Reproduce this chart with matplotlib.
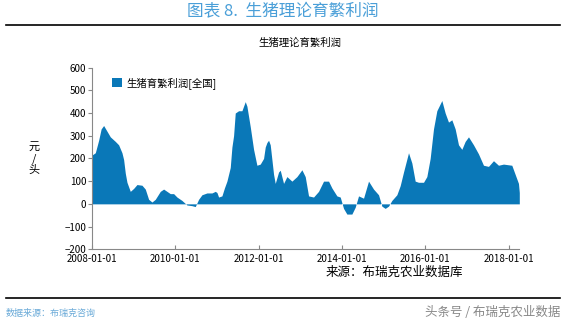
import pandas as pd
import numpy as np
import matplotlib.pyplot as plt
import matplotlib.dates as mdates

plt.rcParams['font.family'] = ['Noto Sans CJK SC', 'DejaVu Sans']

# decimal years, profit in yuan per head
years = [2008.00, 2008.08, 2008.16, 2008.22, 2008.28, 2008.36, 2008.44, 2008.56, 2008.64,
         2008.72, 2008.76, 2008.80, 2008.84, 2008.92, 2009.00, 2009.08, 2009.20, 2009.28,
         2009.36, 2009.44, 2009.52, 2009.64, 2009.72, 2009.80, 2009.88, 2009.96, 2010.04,
         2010.16, 2010.28, 2010.40, 2010.48, 2010.56, 2010.64, 2010.76, 2010.88, 2010.96,
         2011.00, 2011.04, 2011.12, 2011.18, 2011.24, 2011.28, 2011.32, 2011.36, 2011.40,
         2011.44, 2011.52, 2011.60, 2011.68, 2011.72, 2011.80, 2011.88, 2011.96, 2012.04,
         2012.12, 2012.16, 2012.20, 2012.24, 2012.28, 2012.36, 2012.40, 2012.48, 2012.52,
         2012.60, 2012.68, 2012.80, 2012.92, 2013.04, 2013.12, 2013.20, 2013.32, 2013.44,
         2013.56, 2013.68, 2013.76, 2013.88, 2013.96, 2014.04, 2014.12, 2014.24, 2014.32,
         2014.40, 2014.52, 2014.64, 2014.76, 2014.88, 2014.96, 2015.04, 2015.12, 2015.20,
         2015.32, 2015.40, 2015.48, 2015.60, 2015.68, 2015.76, 2015.84, 2015.96, 2016.04,
         2016.12, 2016.20, 2016.28, 2016.40, 2016.48, 2016.56, 2016.64, 2016.72, 2016.80,
         2016.88, 2016.96, 2017.04, 2017.16, 2017.28, 2017.40, 2017.52, 2017.64, 2017.76,
         2017.88, 2018.08, 2018.16, 2018.24, 2018.26]
profit = [215, 225, 280, 330, 345, 320, 295, 275, 260,
          225, 195, 135, 95, 55, 68, 85, 82, 65,
          20, 8, 20, 55, 65, 55, 45, 45, 30,
          15, -5, -8, -12, 20, 40, 48, 48, 55,
          50, 30, 35, 70, 100, 130, 160, 250, 300,
          400, 410, 410, 450, 430, 340, 240, 170, 175,
          200, 250, 270, 280, 260, 130, 90, 140, 148,
          90, 120, 100, 120, 150, 120, 35, 30, 55,
          100, 100, 70, 35, 30, -20, -45, -45, -15,
          35, 25, 100, 65, 40, -10, -20, -10, 15,
          40, 80, 140, 225, 180, 100, 95, 95, 120,
          200, 330, 410, 455, 400, 360, 370, 330, 260,
          240, 275, 295, 260, 220, 170, 165, 190, 170,
          175, 170, 130, 90, 50]

yticks = [-200, -100, 0, 100, 200, 300, 400, 500, 600]
xtick_labels = ['2008-01-01', '2010-01-01', '2012-01-01', '2014-01-01', '2016-01-01', '2018-01-01']

dates = pd.to_datetime('2008-01-01') + pd.to_timedelta((np.array(years) - 2008) * 365.25, unit='D')

fig = plt.figure(figsize=(5.66, 3.25), dpi=100)
ax = fig.add_axes([0.1625, 0.233, 0.755, 0.559])

color = '#0a78b8'
ax.fill_between(dates, profit, 0, color=color, linewidth=0, label='生猪育繁利润[全国]')

ax.set_xlim(dates[0], dates[-1])
ax.set_ylim(-200, 600)
ax.set_yticks(yticks)
ax.set_xticks(pd.to_datetime(xtick_labels))
ax.xaxis.set_major_formatter(mdates.DateFormatter('%Y-%m-%d'))

for s in ['top', 'right']:
    ax.spines[s].set_visible(False)
for s in ['left', 'bottom']:
    ax.spines[s].set_color('#888888')
    ax.spines[s].set_linewidth(0.8)
ax.tick_params(axis='y', direction='out', length=3, color='#888888', labelsize=7, pad=1)
ax.tick_params(axis='x', direction='in', length=3, color='#888888', labelsize=7, pad=3.5)

ax.set_ylabel('元\n/\n头', rotation=0, fontsize=8, labelpad=22, va='center')
ax.legend(loc='upper left', bbox_to_anchor=(0.025, 1.0), frameon=False, fontsize=7.5,
          handlelength=1.0, handleheight=1.0, handletextpad=0.4)

fig.text(0.5, 0.963, '图表 8.  生猪理论育繁利润', ha='center', va='center', fontsize=12, color='#4a9fd8')
fig.add_artist(plt.Line2D([0.01, 0.99], [0.923, 0.923], color='black', linewidth=1.2))
fig.text(0.53, 0.868, '生猪理论育繁利润', ha='center', va='center', fontsize=7.5)
fig.text(0.575, 0.163, '来源：布瑞克农业数据库', ha='left', va='center', fontsize=9)
fig.add_artist(plt.Line2D([0.01, 0.99], [0.083, 0.083], color='black', linewidth=1.2))
fig.text(0.01, 0.037, '数据来源：布瑞克咨询', ha='left', va='center', fontsize=6.5, color='#6aaad8')
fig.text(0.99, 0.037, '头条号 / 布瑞克农业数据', ha='right', va='center', fontsize=9, color='#888888')

fig.savefig('out.png', dpi=100)
